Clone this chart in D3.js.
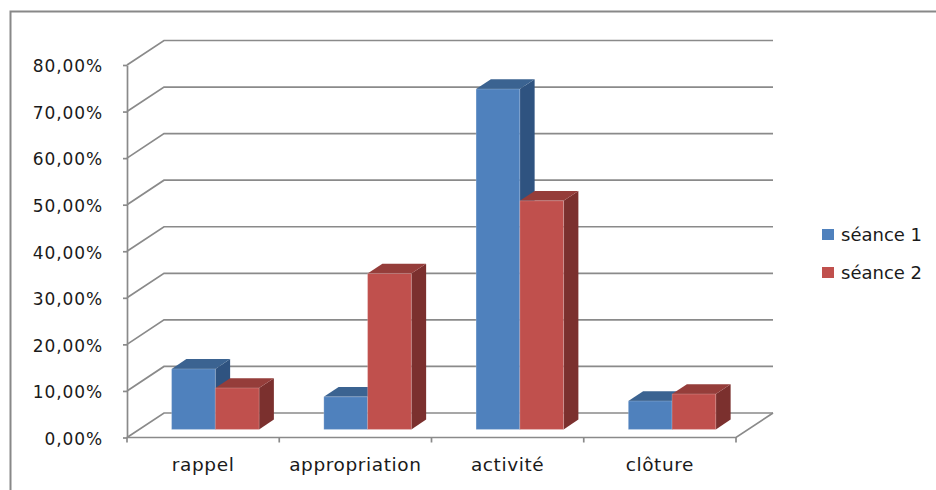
<!DOCTYPE html>
<html>
<head>
<meta charset="utf-8">
<script src="https://cdn.jsdelivr.net/npm/d3@7"></script>
<style>
  html, body { margin: 0; padding: 0; background: #fff; }
  svg { display: block; }
  text { font-family: "DejaVu Sans", sans-serif; fill: #1a1a1a; }
</style>
</head>
<body>
<svg id="chart" width="936" height="490"></svg>
<script>
// ---- data ----
const categories = ["rappel", "appropriation", "activité", "clôture"];
const seriesNames = ["séance 1", "séance 2"];
const seance1 = [13.0, 7.0, 73.1, 6.1];
const seance2 = [8.9, 33.5, 49.1, 7.6];
const yTickValues = [0, 10, 20, 30, 40, 50, 60, 70, 80];

// ---- styles ----
const faceColors = {
  "séance 1": { front: "#4F81BD", top: "#3B6391", side: "#2F5380" },
  "séance 2": { front: "#C0504D", top: "#953D3A", side: "#7B302E" }
};
const gridColor = "#8a8a8a";
const DX = 37, DY = 24.5;          // depth offset of the back wall
const zFront = 0.33, zDepth = 0.40; // bar depth position

const svg = d3.select("#chart");

// frame
svg.append("path")
  .attr("d", "M10.5,490 L10.5,11.5 L936,11.5")
  .attr("fill", "none").attr("stroke", "#888").attr("stroke-width", 2);

const y = d3.scaleLinear().domain([0, 80]).range([437.5, 65]);
const xCat = d3.scaleBand().domain(categories).range([127, 736]).paddingInner(0).paddingOuter(0);
const xSer = d3.scaleBand().domain(seriesNames).range([0, xCat.bandwidth()]).paddingInner(0).paddingOuter(0.74);

const P = (x, v, z) => [x + z * DX, y(v) - z * DY];
const line = d3.line();

const x0 = xCat.range()[0], x1 = xCat.range()[1];
const grid = svg.append("g").attr("fill", "none").attr("stroke", gridColor).attr("stroke-width", 1.7);

// back wall gridlines + left wall diagonals
yTickValues.forEach(v => {
  grid.append("path").attr("d", line([P(x0, v, 0), P(x0, v, 1), P(x1, v, 1)]));
});
// floor
grid.append("path").attr("d", line([P(x0, 0, 0), P(x1, 0, 0), P(x1, 0, 1)]));

// category boundary ticks
const bounds = categories.map(c => xCat(c)).concat([x1]);
bounds.forEach(bx => {
  grid.append("path").attr("d", line([[bx, y(0)], [bx, y(0) + 5]]));
});

// y axis
const fmt = d3.formatLocale({ decimal: ",", thousands: " ", grouping: [3], currency: ["", " €"] }).format(".2%");
const yAxis = svg.append("g")
  .attr("transform", `translate(${x0},0)`)
  .call(d3.axisLeft(y).tickValues(yTickValues).tickFormat(d => fmt(d / 100)).tickSizeInner(4).tickSizeOuter(0).tickPadding(20));
yAxis.select(".domain").attr("stroke", gridColor).attr("stroke-width", 1.7);
yAxis.selectAll(".tick line").attr("stroke", gridColor).attr("stroke-width", 1.7);
yAxis.selectAll(".tick text")
  .attr("fill", "#1a1a1a")
  .style("font-family", "'DejaVu Sans', sans-serif")
  .style("font-size", "17px")
  .style("letter-spacing", "0.9px")
  .attr("dy", "0.4em");

// category labels
svg.append("g").selectAll("text").data(categories).join("text")
  .attr("x", d => xCat(d) + xCat.bandwidth() / 2)
  .attr("y", 471)
  .attr("text-anchor", "middle")
  .style("font-size", "18.5px")
  .style("letter-spacing", "0.6px")
  .text(d => d);

// bars
const data = [];
categories.forEach((c, i) => {
  data.push({ cat: c, ser: seriesNames[0], v: seance1[i] });
  data.push({ cat: c, ser: seriesNames[1], v: seance2[i] });
});

const bars = svg.append("g");
data.forEach(d => {
  const xl = xCat(d.cat) + xSer(d.ser);
  const xr = xl + xSer.bandwidth();
  const zf = zFront, zb = zFront + zDepth;
  const col = faceColors[d.ser];
  const g = bars.append("g");
  // side face (right)
  g.append("path").attr("fill", col.side)
    .attr("d", line([P(xr, 0, zf), P(xr, 0, zb), P(xr, d.v, zb), P(xr, d.v, zf)]) + "Z");
  // top face
  g.append("path").attr("fill", col.top)
    .attr("d", line([P(xl, d.v, zf), P(xl, d.v, zb), P(xr, d.v, zb), P(xr, d.v, zf)]) + "Z");
  // front face
  g.append("path").attr("fill", col.front)
    .attr("stroke", "rgba(255,255,255,0.25)").attr("stroke-width", 0.8)
    .attr("d", line([P(xl, 0, zf), P(xr, 0, zf), P(xr, d.v, zf), P(xl, d.v, zf)]) + "Z");
});

// legend
const legend = svg.append("g");
seriesNames.forEach((s, i) => {
  const ly = 229 + i * 38;
  legend.append("rect").attr("x", 822).attr("y", ly).attr("width", 12).attr("height", 11)
    .attr("fill", faceColors[s].front);
  legend.append("text").attr("x", 841).attr("y", ly + 11.5)
    .style("font-size", "18px").text(s);
});
</script>
</body>
</html>
